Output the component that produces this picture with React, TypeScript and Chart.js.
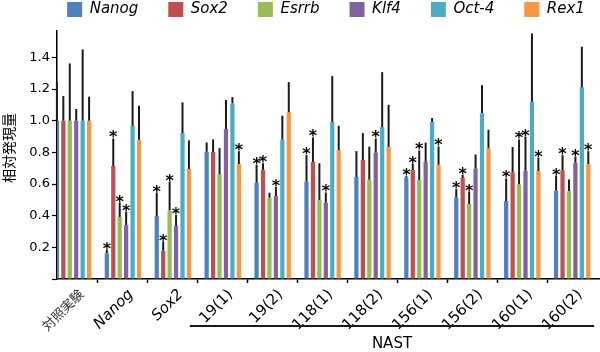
import { useEffect, useRef } from 'react';
import { Chart, registerables } from 'chart.js';

Chart.register(...registerables);

// ---- data ----
const categories = ['対照実験', 'Nanog', 'Sox2', '19(1)', '19(2)', '118(1)', '118(2)', '156(1)', '156(2)', '160(1)', '160(2)'];
const italicLabels = ['Nanog', 'Sox2'];
const seriesNames = ['Nanog', 'Sox2', 'Esrrb', 'Klf4', 'Oct-4', 'Rex1'];
const seriesColors = ['#4F81BD', '#C0504D', '#9BBB59', '#8064A2', '#4BACC6', '#F79646'];

const nanogValues = [1.0, 0.162, 0.398, 0.804, 0.608, 0.615, 0.644, 0.64, 0.516, 0.493, 0.558];
const nanogErrors = [0.246, 0.023, 0.147, 0.059, 0.112, 0.168, 0.164, 0.01, 0.052, 0.143, 0.095];
const nanogSig = [0, 1, 1, 0, 1, 1, 0, 1, 1, 1, 1];

const sox2Values = [1.0, 0.714, 0.179, 0.802, 0.69, 0.739, 0.752, 0.688, 0.638, 0.674, 0.688];
const sox2Errors = [0.156, 0.174, 0.057, 0.08, 0.041, 0.156, 0.17, 0.041, 0.019, 0.16, 0.095];
const sox2Sig = [0, 1, 1, 0, 1, 1, 0, 1, 1, 0, 1];

const esrrbValues = [1.0, 0.392, 0.434, 0.661, 0.514, 0.499, 0.627, 0.626, 0.474, 0.598, 0.556];
const esrrbErrors = [0.362, 0.09, 0.181, 0.166, 0.031, 0.232, 0.209, 0.186, 0.078, 0.284, 0.073];
const esrrbSig = [0, 1, 1, 0, 0, 0, 0, 1, 1, 1, 0];

const klf4Values = [1.0, 0.341, 0.335, 0.947, 0.524, 0.482, 0.798, 0.741, 0.697, 0.684, 0.735];
const klf4Errors = [0.074, 0.084, 0.069, 0.184, 0.057, 0.065, 0.09, 0.121, 0.09, 0.215, 0.038];
const klf4Sig = [0, 1, 1, 0, 1, 1, 1, 0, 0, 1, 1];

const oct4Values = [1.0, 0.966, 0.922, 1.109, 0.88, 0.992, 0.96, 0.992, 1.048, 1.12, 1.211];
const oct4Errors = [0.45, 0.221, 0.194, 0.04, 0.152, 0.29, 0.347, 0.025, 0.177, 0.432, 0.256];
const oct4Sig = [0, 0, 0, 0, 0, 0, 0, 0, 0, 0, 0];

const rex1Values = [1.0, 0.88, 0.695, 0.726, 1.053, 0.813, 0.834, 0.722, 0.825, 0.682, 0.726];
const rex1Errors = [0.152, 0.215, 0.181, 0.082, 0.191, 0.155, 0.267, 0.116, 0.118, 0.084, 0.082];
const rex1Sig = [0, 0, 0, 1, 0, 0, 0, 1, 0, 1, 1];

const yTickValues = [0, 0.2, 0.4, 0.6, 0.8, 1.0, 1.2, 1.4];
const yTitle = '相対発現量';
const bracketLabel = 'NAST';
const bracketFrom = '19(1)';
const bracketTo = '160(2)';

const seriesValues = [nanogValues, sox2Values, esrrbValues, klf4Values, oct4Values, rex1Values];
const seriesErrors = [nanogErrors, sox2Errors, esrrbErrors, klf4Errors, oct4Errors, rex1Errors];
const seriesSig = [nanogSig, sox2Sig, esrrbSig, klf4Sig, oct4Sig, rex1Sig];

const annotatePlugin = {
  id: 'annotate',
  afterDatasetsDraw(chart: any) {
    const ctx = chart.ctx;
    const yScale = chart.scales.y;
    ctx.save();
    seriesValues.forEach((vals, di) => {
      const meta = chart.getDatasetMeta(di);
      meta.data.forEach((bar: any, i: number) => {
        const top = yScale.getPixelForValue(vals[i] + seriesErrors[di][i]);
        ctx.strokeStyle = '#1a1a1a';
        ctx.lineWidth = 2;
        ctx.beginPath();
        ctx.moveTo(bar.x, bar.y);
        ctx.lineTo(bar.x, top);
        ctx.stroke();
        if (seriesSig[di][i]) {
          ctx.fillStyle = '#000';
          ctx.font = 'bold 16px "DejaVu Sans"';
          ctx.textAlign = 'center';
          ctx.textBaseline = 'alphabetic';
          ctx.fillText('*', bar.x, top + 4);
        }
      });
    });
    ctx.restore();
  },
  afterDraw(chart: any) {
    const ctx = chart.ctx;
    const xScale = chart.scales.x;
    const area = chart.chartArea;
    ctx.save();
    // bracket under the NAST groups
    const x1 = xScale.getPixelForValue(categories.indexOf(bracketFrom) - 0.66);
    const x2 = xScale.getPixelForValue(categories.indexOf(bracketTo) + 0.44);
    const ly = area.bottom + 47;
    ctx.strokeStyle = '#1a1a1a';
    ctx.lineWidth = 2;
    ctx.beginPath();
    ctx.moveTo(x1, ly);
    ctx.lineTo(x2, ly);
    ctx.stroke();
    ctx.fillStyle = '#000';
    ctx.font = '15px "DejaVu Sans"';
    ctx.textAlign = 'center';
    ctx.textBaseline = 'middle';
    ctx.fillText(bracketLabel, (x1 + x2) / 2, area.bottom + 65);
    // y axis title
    ctx.translate(9, (area.top + area.bottom) / 2 - 7);
    ctx.rotate(-Math.PI / 2);
    ctx.font = '14px "Noto Sans CJK JP"';
    ctx.fillText(yTitle, 0, 0);
    ctx.restore();
  },
};

export default function App() {
  const canvasRef = useRef<HTMLCanvasElement | null>(null);

  useEffect(() => {
    document.body.style.margin = '0';
    const canvas = canvasRef.current;
    if (!canvas) return;
    Chart.defaults.font.family = '"DejaVu Sans"';
    const chart = new Chart(canvas, {
      type: 'bar',
      data: {
        datasets: seriesNames.map((name, di) => ({
          label: name,
          data: seriesValues[di].map((v, i) => ({ x: i, y: v })),
          backgroundColor: seriesColors[di],
          borderWidth: 0,
          barPercentage: 0.66,
          categoryPercentage: 0.774,
        })),
      },
      options: {
        responsive: false,
        animation: false,
        events: [],
        layout: { padding: { top: -28, left: 0, right: -52, bottom: 0 } },
        plugins: {
          tooltip: { enabled: false },
          legend: {
            position: 'top',
            align: 'center',
            fullSize: true,
            labels: {
              boxWidth: 15,
              boxHeight: 15,
              padding: 30,
              color: '#000',
              font: { family: '"DejaVu Sans"', size: 15, style: 'italic' },
            },
          },
          title: {
            display: true,
            text: ' ',
            padding: 0,
            weight: 500,
            font: { size: 4, lineHeight: 1 },
          },
        },
        scales: {
          x: {
            type: 'linear',
            offset: false,
            min: -0.3205,
            max: 10.557,
            afterBuildTicks: (s: any) => {
              s.ticks = categories.map((_, i) => ({ value: i }));
            },
            afterFit: (s: any) => {
              s.height = 73;
            },
            ticks: {
              autoSkip: false,
              minRotation: 45,
              maxRotation: 45,
              labelOffset: 8,
              padding: 3,
              color: (c: any) => (c.index === 0 ? '#333' : '#000'),
              callback: (v: any) => categories[Math.round(v)] ?? '',
              font: (c: any) => {
                const label = categories[c.index] ?? '';
                if (/[\u3040-\u9fff]/.test(label)) return { family: '"Noto Sans CJK JP"', size: 13 };
                if (italicLabels.includes(label)) return { family: '"DejaVu Sans"', size: 15, style: 'italic' };
                return { family: '"DejaVu Sans"', size: 15 };
              },
            },
            grid: {
              offset: true,
              drawOnChartArea: false,
              tickLength: 4,
              color: '#000',
              tickWidth: 1.5,
              tickColor: (c: any) => (c.tick ? '#000' : 'rgba(0,0,0,0)'),
            },
            border: { color: '#000', width: 1.5 },
          },
          y: {
            min: 0,
            max: 1.567,
            afterBuildTicks: (s: any) => {
              s.ticks = yTickValues.map((v) => ({ value: v }));
            },
            afterFit: (s: any) => {
              s.width = 57;
            },
            ticks: {
              padding: 2,
              color: '#000',
              font: { family: '"DejaVu Sans"', size: 13 },
              callback: (v: any) => (v === 0 ? '' : Number(v).toFixed(1)),
            },
            grid: { drawOnChartArea: false, tickLength: 5, color: '#000', tickWidth: 1.2 },
            border: { color: '#000', width: 1.5 },
          },
        },
      } as any,
      plugins: [annotatePlugin],
    });
    return () => chart.destroy();
  }, []);

  return (
    <div style={{ width: 600, height: 352 }}>
      <canvas ref={canvasRef} width={600} height={352} style={{ display: 'block' }} />
    </div>
  );
}
